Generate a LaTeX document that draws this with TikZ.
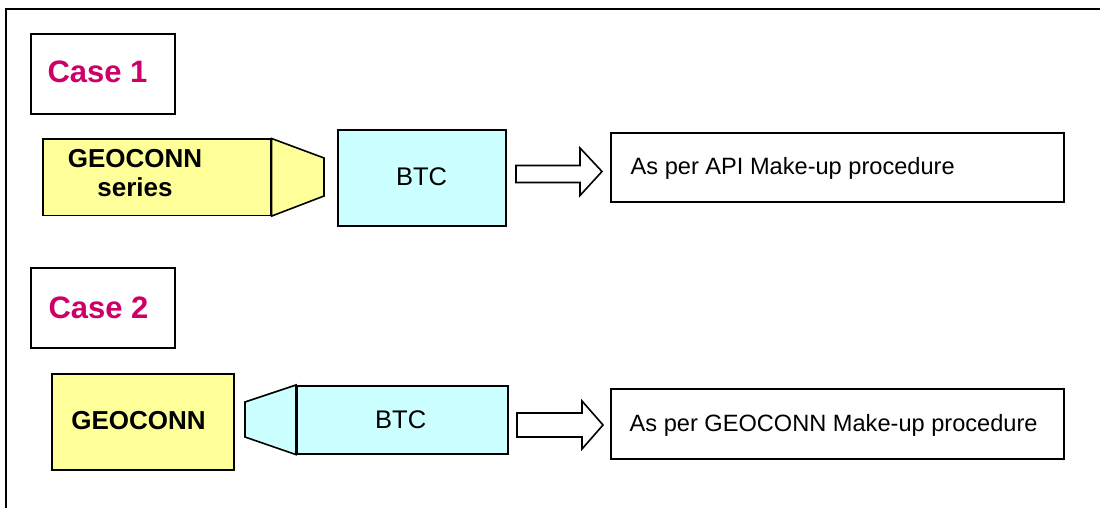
\documentclass[tikz,border=0pt]{standalone}
\usepackage{fontspec}
\setmainfont{Liberation Sans}
\definecolor{ylw}{HTML}{FFFF99}
\definecolor{cyn}{HTML}{CCFFFF}
\definecolor{mag}{HTML}{CC0066}
\begin{document}
\begin{tikzpicture}[x=1pt,y=-1pt,
  box/.style={draw=black, line width=1.6pt, line join=miter, inner sep=0pt, anchor=north west, rectangle},
  shp/.style={draw=black, line width=1.6pt, line join=miter},
  casetxt/.style={inner sep=0pt, anchor=base, text=mag, font=\bfseries\fontsize{31}{36}\selectfont},
  geotxt/.style={inner sep=0pt, font=\bfseries\fontsize{26}{29}\selectfont, align=center},
  btctxt/.style={inner sep=0pt, font=\fontsize{25.5}{28}\selectfont},
  plaintxt/.style={inner sep=0pt, font=\fontsize{23.6}{28}\selectfont}]
\useasboundingbox (0,0) rectangle (1100,508);
% frame
\draw[line width=2.4pt] (6,508) -- (6,9) -- (1100,9);

% ---------- Case 1 ----------
\node[box, minimum width=144pt, minimum height=80pt] (c1) at (30,33) {};
\node[casetxt] (c1t) at (97.5,83) {Case 1};

\node[box, fill=ylw, minimum width=228pt, minimum height=76pt] (g1) at (42,138.5) {};
\draw[shp, fill=ylw] (g1.north east) -- (324,158) -- (324,196) -- (g1.south east) -- cycle;
\node[geotxt, anchor=north] (g1t) at (135,149) {GEOCONN\\series};

\node[box, fill=cyn, minimum width=168pt, minimum height=96pt] (b1) at (337,129) {};
\node[btctxt, anchor=base] (b1t) at (421.5,185) {BTC};

\draw[shp, fill=white] (516,165.5) -- (580,165.5) -- (580,148) -- (602,171.5) -- (580,195.5) -- (580,182.5) -- (516,182.5) -- cycle;

\node[box, minimum width=453pt, minimum height=69pt] (r1) at (610,132) {};
\node[plaintxt, anchor=base west] (r1t) at (630.5,174.3) {As per API Make-up procedure};

% ---------- Case 2 ----------
\node[box, minimum width=144pt, minimum height=80pt] (c2) at (30,267) {};
\node[casetxt] (c2t) at (98.5,318) {Case 2};

\node[box, fill=ylw, minimum width=182pt, minimum height=96pt] (g2) at (51,373) {};
\node[geotxt, anchor=base] (g2t) at (138.5,429) {GEOCONN};

\node[box, fill=cyn, minimum width=211pt, minimum height=68pt] (b2) at (296,385) {};
\draw[shp, fill=cyn] (b2.north west) -- (245,402) -- (245,437) -- (b2.south west) -- cycle;
\node[btctxt, anchor=base] (b2t) at (400.7,428.3) {BTC};

\draw[shp, fill=white] (517,413) -- (582,413) -- (582,401) -- (603,425) -- (582,449) -- (582,437) -- (517,437) -- cycle;

\node[box, minimum width=453pt, minimum height=70pt] (r2) at (610,388) {};
\node[plaintxt, anchor=base west] (r2t) at (629.5,431.7) {As per GEOCONN Make-up procedure};
\end{tikzpicture}
\end{document}
